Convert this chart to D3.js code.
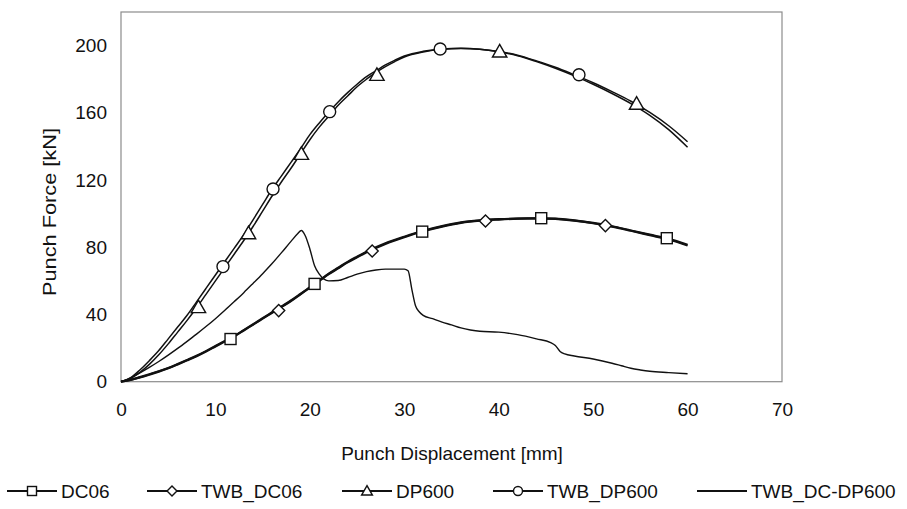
<!DOCTYPE html>
<html><head><meta charset="utf-8">
<script src="https://cdn.jsdelivr.net/npm/d3@7"></script>
<style>
body{margin:0;background:#fff}
svg{display:block}
text{font-family:"Liberation Sans",Arial,sans-serif;fill:#111}
</style>
</head><body>
<svg id="c" width="907" height="509"></svg>
<script>
// ---- data ----
const xTicks = [0,10,20,30,40,50,60,70];
const yTicks = [0,40,80,120,160,200];

const xDP = [0,1,2,3,4,5,6,7,8,9,10,11,12,13,14,15,16,17,18,19,20,21,22,23,24,25,26,27,28,29,30,32,34,36,38,40,42,44,46,48,50,52,54,56,58,60];
const dp600 = [0,1.8,5.5,10.3,16,22.5,29.5,36.5,44,52,60,68,76,84,92.5,101.5,110.5,119,127,135.5,144,151.5,158,164.5,170,175.5,180,184,187.5,190.5,193.2,196.2,197.8,198.3,197.8,196.3,194,190.5,186.5,182,177,171.5,165.5,158.5,150,139.5];
const twbDp600 = [0,2.3,7,12.5,18.5,25.5,32.5,39.5,47.5,55.5,63.5,71.5,79.5,87.5,96.5,105.5,114.5,122.5,130.5,138.5,147,154,160.5,166.5,172,177,181.5,185,188.5,191.3,193.8,196.6,198,198.4,197.9,196.5,194.3,190.9,187.1,182.6,177.9,172.6,166.9,160.2,152.3,142.8];

const xDC = [0,1,2,3,4,5,6,7,8,9,10,11,12,13,14,15,16,17,18,19,20,21,22,23,24,25,26,28,30,32,34,36,38,40,42,44,46,48,50,52,54,56,58,60];
const dc06 = [0,1,2.5,4.2,6,8,10.3,12.7,15.2,18,21,24,27,30.5,34,37.5,41,44.5,48,52,56,60,64,67.5,71,74,77,82,86,89.5,92.3,94.5,95.8,96.5,97,97.2,97,96,94.5,92.5,90,87.5,85,81.5];
const twbDc06 = [0,1.1,2.7,4.4,6.2,8.2,10.5,12.9,15.4,18.2,21.2,24.2,27.2,30.7,34.2,37.8,41.3,44.8,48.3,52.2,56.2,60.2,64.3,67.8,71.3,74.4,77.4,82.4,86.3,89.8,92.6,94.8,96,96.7,97.1,97.2,96.9,95.9,94.3,92.3,89.8,87.2,84.6,81];

const xTWB = [0,1,2,3,4,5,6,7,8,9,10,11,12,13,14,15,16,17,18,18.7,19.1,19.5,20,20.5,21,21.5,22,23,24,25,26,27,28,29,30,30.4,30.8,31.2,31.6,32,33,34,35,36,37,38,40,42,44,45.5,46,46.5,47,48,50,52,53,54,55,56,58,60];
const twbDcDp600 = [0,2.3,5.2,8.5,12,15.8,19.8,24,28.3,32.8,37.5,42.5,47.7,53,58.6,64.3,70.3,76.8,83.5,88,90,87,79,69,64,61,60,60.2,62,64,65.5,66.5,67,67,67,66,55,45,41.5,39.5,37.5,35.5,33.8,32,30.8,30,29.5,28,25.5,23.3,21.5,18,16.5,15.3,13.5,11,9.5,8,7,6.2,5.4,4.7];

// marker positions
const dc06MarkX = [11.6,20.5,31.9,44.5,57.8];
const dc06MarkY = [25.4,58.2,89.3,97.3,85.4];
const twbDc06MarkX = [16.7,26.6,38.6,51.3];
const twbDc06MarkY = [42.3,77.8,95.6,92.9];
const dp600MarkX = [8.2,13.5,19.1,27.1,40.1,54.6];
const dp600MarkY = [44.3,88.3,135.5,182.5,196.4,165.3];
const twbDp600MarkX = [10.8,16.1,22.1,33.8,48.5];
const twbDp600MarkY = [68.5,114.7,160.7,198,182.7];

const legendNames = ["DC06","TWB_DC06","DP600","TWB_DP600","TWB_DC-DP600"];

// ---- drawing ----
const svg = d3.select("#c");
const x = d3.scaleLinear().domain([0,70]).range([121,782]);
const y = d3.scaleLinear().domain([0,220]).range([381.7,12]);

svg.append("rect").attr("x",121).attr("y",12).attr("width",661).attr("height",369.7)
  .attr("fill","#fff").attr("stroke","#8c8c8c").attr("stroke-width",1.2);

const gx = svg.append("g").attr("transform","translate(0,381.7)")
  .call(d3.axisBottom(x).tickValues(xTicks).tickSize(0).tickPadding(21).tickFormat(d3.format("d")));
gx.select(".domain").remove();
gx.selectAll("text").attr("font-size",19).attr("font-family","Liberation Sans, Arial, sans-serif").attr("fill","#111");

const gy = svg.append("g").attr("transform","translate(121,0)")
  .call(d3.axisLeft(y).tickValues(yTicks).tickSize(0).tickPadding(14).tickFormat(d3.format("d")));
gy.select(".domain").remove();
gy.selectAll("text").attr("font-size",19).attr("font-family","Liberation Sans, Arial, sans-serif").attr("fill","#111");

svg.append("text").attr("x",452).attr("y",460).attr("text-anchor","middle").attr("font-size",19)
  .text("Punch Displacement [mm]");
svg.append("text").attr("transform","translate(56,212) rotate(-90)").attr("text-anchor","middle").attr("font-size",19)
  .attr("textLength",168).attr("lengthAdjust","spacingAndGlyphs")
  .text("Punch Force [kN]");

function path(xs, ys, w){
  const line = d3.line().x((d,i)=>x(xs[i])).y((d,i)=>y(ys[i])).curve(d3.curveMonotoneX);
  svg.append("path").attr("d", line(ys)).attr("fill","none").attr("stroke","#111")
    .attr("stroke-width",w).attr("stroke-linejoin","round");
}
path(xTWB, twbDcDp600, 1.4);
path(xDC, dc06, 2.2);
path(xDC, twbDc06, 2.2);
path(xDP, dp600, 1.5);
path(xDP, twbDp600, 1.5);

function marker(g, type, cx, cy, s){
  let el;
  if(type==="square") el = g.append("rect").attr("x",cx-s/2).attr("y",cy-s/2).attr("width",s).attr("height",s);
  else if(type==="diamond") el = g.append("path").attr("d",`M${cx},${cy-s*0.55}L${cx+s*0.55},${cy}L${cx},${cy+s*0.55}L${cx-s*0.55},${cy}Z`);
  else if(type==="triangle") el = g.append("path").attr("d",`M${cx},${cy-s*0.6}L${cx+s*0.6},${cy+s*0.45}L${cx-s*0.6},${cy+s*0.45}Z`);
  else if(type==="circle") el = g.append("circle").attr("cx",cx).attr("cy",cy).attr("r",s/2);
  if(el) el.attr("fill","#fff").attr("stroke","#111").attr("stroke-width",1.4);
}
const mg = svg.append("g");
dc06MarkX.forEach((v,i)=>marker(mg,"square",x(v),y(dc06MarkY[i]),11));
twbDc06MarkX.forEach((v,i)=>marker(mg,"diamond",x(v),y(twbDc06MarkY[i]),11));
dp600MarkX.forEach((v,i)=>marker(mg,"triangle",x(v),y(dp600MarkY[i]),12));
twbDp600MarkX.forEach((v,i)=>marker(mg,"circle",x(v),y(twbDp600MarkY[i]),12));

// legend
const legTypes = ["square","diamond","triangle","circle","none"];
const legX0 = [7,147,342,493,697];
const legG = svg.append("g");
legendNames.forEach((n,i)=>{
  const x0 = legX0[i], cy = 491;
  legG.append("line").attr("x1",x0).attr("x2",x0+50).attr("y1",cy).attr("y2",cy)
    .attr("stroke","#111").attr("stroke-width",1.8);
  marker(legG, legTypes[i], x0+25, cy, 9);
  legG.append("text").attr("x",x0+54).attr("y",cy+7).attr("font-size",19).text(n);
});
</script>
</body></html>
